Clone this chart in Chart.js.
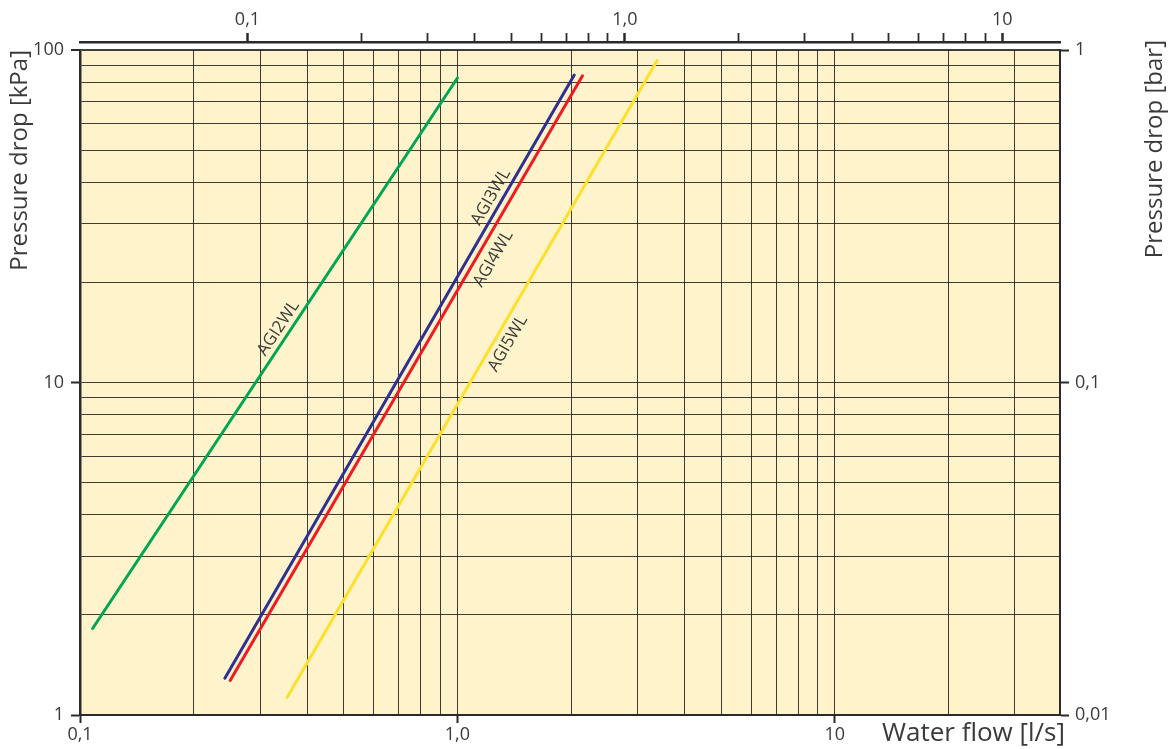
<!DOCTYPE html>
<html>
<head>
<meta charset="utf-8">
<script src="https://cdn.jsdelivr.net/npm/chart.js@4.4.1/dist/chart.umd.min.js"></script>
<style>
  html, body { margin: 0; padding: 0; background: #fff; }
  #wrap { width: 1172px; height: 749px; }
</style>
</head>
<body>
<div id="wrap"><canvas id="chart" width="1172" height="749"></canvas></div>
<script>
// water flow [l/s] vs pressure drop [kPa], log-log
const seriesNames = ["AGI2WL", "AGI3WL", "AGI4WL", "AGI5WL"];
const seriesColors = ["#00a651", "#2e3192", "#ed1c24", "#fbe12b"];

const agi2Flow = [0.108, 1.0];
const agi2Drop = [1.82, 82.4];
const agi3Flow = [0.242, 2.04];
const agi3Drop = [1.29, 84.1];
const agi4Flow = [0.250, 2.145];
const agi4Drop = [1.27, 83.6];
const agi5Flow = [0.354, 3.38];
const agi5Drop = [1.13, 92.9];

const flowMin = 0.1;
const flowMax = 39.5;
const dropMin = 1;
const dropMax = 100;
const m3hPerLs = 0.36; // top scale unit (as printed on the chart)
const barPerKPa = 0.01;

// grid / tick values
const flowGrid = [0.1, 0.2, 0.3, 0.4, 0.5, 0.6, 0.7, 0.8, 0.9, 1, 2, 3, 4, 5, 6, 7, 8, 9, 10, 20, 30];
const flowTickValues = [0.1, 1, 10];
const flowTickLabels = ["0,1", "1,0", "10"];
const topGrid = [0.1, 0.2, 0.3, 0.4, 0.5, 0.6, 0.7, 0.8, 0.9, 1, 2, 3, 4, 5, 6, 7, 8, 9, 10];
const topTickValues = [0.1, 1, 10];
const topTickLabels = ["0,1", "1,0", "10"];
const dropGrid = [1, 2, 3, 4, 5, 6, 7, 8, 9, 10, 20, 30, 40, 50, 60, 70, 80, 90, 100];
const dropTickValues = [1, 10, 100];
const dropTickLabels = ["1", "10", "100"];
const barTickValues = [0.01, 0.1, 1];
const barTickLabels = ["0,01", "0,1", "1"];

// where the curve names sit along each line (flow, l/s) and on which side
const labelFlows = [0.355, 1.3, 1.15, 1.27];
const labelSides = [1, 1, -1, -1];
const labelGaps = [11, 11, 15, 13];

const FONT = "'Open Sans', 'Noto Sans', sans-serif";
const textColor = "#3a3a3a";
const axisColor = "#2b2b2b";
const gridColor = "rgba(20,20,20,0.82)";
const plotBg = "#fef3ca";

const near = (a, b) => Math.abs(Math.log10(a) - Math.log10(b)) < 1e-6;
const labelFor = (v, values, labels) => {
  const i = values.findIndex(t => near(t, v));
  return i < 0 ? "" : labels[i];
};
const setTicks = values => s => { s.ticks = values.map(v => ({ value: v })); };

const flows = [agi2Flow, agi3Flow, agi4Flow, agi5Flow];
const drops = [agi2Drop, agi3Drop, agi4Drop, agi5Drop];

const datasets = seriesNames.map((name, i) => ({
  label: name,
  data: flows[i].map((f, j) => ({ x: f, y: drops[i][j] })),
  borderColor: seriesColors[i],
  borderWidth: 3,
  borderCapStyle: "round",
  pointRadius: 0,
  fill: false,
  tension: 0,
}));

const plotBackground = {
  id: "plotBackground",
  beforeDraw(chart) {
    const { ctx, chartArea: a } = chart;
    ctx.save();
    ctx.fillStyle = "#fff";
    ctx.fillRect(0, 0, chart.width, chart.height);
    ctx.fillStyle = plotBg;
    ctx.fillRect(a.left, a.top, a.right - a.left, a.bottom - a.top);
    ctx.restore();
  },
};

const curveLabels = {
  id: "curveLabels",
  afterDatasetsDraw(chart) {
    const { ctx } = chart;
    const xs = chart.scales.x, ys = chart.scales.y;
    ctx.save();
    ctx.font = "17px " + FONT;
    ctx.fillStyle = textColor;
    ctx.textAlign = "center";
    ctx.textBaseline = "middle";
    seriesNames.forEach((name, i) => {
      const x0 = xs.getPixelForValue(flows[i][0]), y0 = ys.getPixelForValue(drops[i][0]);
      const x1 = xs.getPixelForValue(flows[i][1]), y1 = ys.getPixelForValue(drops[i][1]);
      const ang = Math.atan2(y1 - y0, x1 - x0);
      const px = xs.getPixelForValue(labelFlows[i]);
      const py = y0 + (px - x0) / (x1 - x0) * (y1 - y0);
      const d = labelSides[i] * labelGaps[i];
      const cx = px + d * Math.sin(ang);
      const cy = py - d * Math.cos(ang);
      ctx.save();
      ctx.translate(cx, cy);
      ctx.rotate(ang);
      ctx.fillText(name, 0, 0);
      ctx.restore();
    });
    ctx.restore();
  },
};

const extraTitles = {
  id: "extraTitles",
  afterDraw(chart) {
    const { ctx, chartArea: a } = chart;
    ctx.save();
    ctx.fillStyle = textColor;
    ctx.font = "24px " + FONT;
    // right axis title, reads bottom to top
    ctx.save();
    ctx.translate(1155, 40);
    ctx.rotate(-Math.PI / 2);
    ctx.textAlign = "right";
    ctx.textBaseline = "middle";
    ctx.fillText("Pressure drop [bar]", 0, 0);
    ctx.restore();
    // x axis title, level with the tick labels
    ctx.font = "26px " + FONT;
    ctx.textAlign = "right";
    ctx.textBaseline = "middle";
    ctx.fillText("Water flow [l/s]", a.right + 5, 734);
    ctx.restore();
  },
};

const tickFont = { family: FONT, size: 18 };

new Chart(document.getElementById("chart"), {
  type: "line",
  data: { datasets },
  options: {
    responsive: false,
    animation: false,
    devicePixelRatio: 1,
    parsing: false,
    layout: { padding: 0 },
    plugins: { legend: { display: false }, tooltip: { enabled: false } },
    scales: {
      x: {
        type: "logarithmic",
        position: "bottom",
        min: flowMin,
        max: flowMax,
        afterBuildTicks: setTicks(flowGrid),
        afterFit: s => { s.height = 34; },
        grid: {
          color: gridColor,
          lineWidth: 1,
          drawTicks: true,
          tickLength: 8,
          tickWidth: 2,
          tickColor: c => flowTickValues.some(t => near(t, c.tick.value)) ? axisColor : "transparent",
        },
        border: { color: axisColor, width: 2 },
        ticks: {
          autoSkip: false, maxRotation: 0, padding: 1, color: textColor, font: tickFont,
          callback: v => labelFor(v, flowTickValues, flowTickLabels),
        },
      },
      xTop: {
        type: "logarithmic",
        position: "top",
        weight: 2,
        min: flowMin * m3hPerLs,
        max: flowMax * m3hPerLs,
        afterBuildTicks: setTicks(topGrid),
        afterFit: s => { s.height = 42; },
        grid: {
          drawOnChartArea: false,
          drawTicks: true,
          tickLength: 9,
          tickColor: axisColor,
          tickWidth: c => topTickValues.some(t => near(t, c.tick.value)) ? 2.5 : 1.8,
        },
        border: { color: axisColor, width: 2.5 },
        ticks: {
          autoSkip: false, maxRotation: 0, padding: 2, color: textColor, font: tickFont,
          callback: v => labelFor(v, topTickValues, topTickLabels),
        },
      },
      gap: {
        type: "linear",
        position: "top",
        weight: 0,
        afterFit: s => { s.height = 8; },
        grid: { display: false },
        border: { display: false },
        ticks: { display: false },
      },
      y: {
        type: "logarithmic",
        position: "left",
        min: dropMin,
        max: dropMax,
        afterBuildTicks: setTicks(dropGrid),
        afterFit: s => { s.width = 80; },
        grid: {
          color: gridColor,
          lineWidth: c => near(c.tick.value, dropMax) ? 2 : 1,
          drawTicks: true,
          tickLength: 9,
          tickWidth: 2,
          tickColor: c => dropTickValues.some(t => near(t, c.tick.value)) ? axisColor : "transparent",
        },
        border: { color: axisColor, width: 2.5 },
        title: {
          display: true, text: "Pressure drop [kPa]", align: "end",
          color: textColor, font: { family: FONT, size: 24 }, padding: { top: 6, bottom: 0 },
        },
        ticks: {
          autoSkip: false, padding: 7, color: textColor, font: tickFont,
          callback: v => labelFor(v, dropTickValues, dropTickLabels),
        },
      },
      yRight: {
        type: "logarithmic",
        position: "right",
        min: dropMin * barPerKPa,
        max: dropMax * barPerKPa,
        afterBuildTicks: setTicks(barTickValues),
        afterFit: s => { s.width = 112; },
        grid: {
          drawOnChartArea: false,
          drawTicks: true,
          tickLength: 9,
          tickWidth: 2,
          tickColor: axisColor,
        },
        border: { color: axisColor, width: 2 },
        ticks: {
          autoSkip: false, padding: 6, color: textColor, font: tickFont,
          callback: v => labelFor(v, barTickValues, barTickLabels),
        },
      },
    },
  },
  plugins: [plotBackground, curveLabels, extraTitles],
});
</script>
</body>
</html>
